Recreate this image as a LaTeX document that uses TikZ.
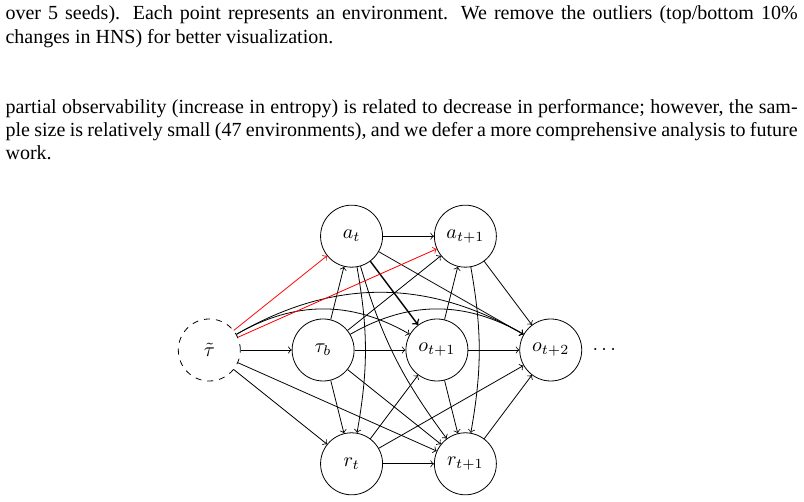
\documentclass[tikz,border=0pt]{standalone}
\usepackage{fontspec}
\newfontfamily\tm{Liberation Serif}
\begin{document}
\begin{tikzpicture}[
  state/.style={circle, draw, minimum size=31pt, inner sep=0pt},
  hidden/.style={state, dashed},
  edge/.style={->},
  redge/.style={->, red},
  txt/.style={anchor=base west, inner sep=0pt, font=\tm\fontsize{10}{12}\selectfont}
]
\useasboundingbox (0,0) rectangle (402pt,251pt);
\node[txt] (l1) at (2.6pt,241.25pt) {\makebox[396pt][s]{over 5 seeds). Each point represents an environment. We remove the outliers (top/bottom 10\%}};
\node[txt] (l2) at (2.6pt,229.35pt) {changes in HNS) for better visualization.};
\node[txt] (l3) at (2.6pt,194.4pt) {\makebox[396pt][s]{partial observability (increase in entropy) is related to decrease in performance; however, the sam-}};
\node[txt] (l4) at (2.6pt,182.8pt) {\makebox[396pt][s]{ple size is relatively small (47 environments), and we defer a more comprehensive analysis to future}};
\node[txt] (l5) at (2.6pt,171.2pt) {work.};
\begin{scope}[shift={(104.65pt,76pt)}]
\node[hidden] (tt) at (0,0) {$\tilde{\tau}$};
\node[state] (tb) at (2,0) {$\tau_b$};
\node[state] (at) at (2.5,2) {$a_t$};
\node[state] (rt) at (2.5,-2) {$r_t$};
\node[state] (o1) at (4,0) {$o_{t+1}$};
\node[state] (a1) at (4.5,2) {$a_{t+1}$};
\node[state] (r1) at (4.5,-2) {$r_{t+1}$};
\node[state] (o2) at (6,0) {$o_{t+2}$};
\node (dots) at (6.94,0) {$\cdots$};
\end{scope}
% from tilde tau
\draw[edge] (tt) -- (tb);
\draw[edge] (tt) -- (rt);
\draw[edge] (tt) -- (r1);
\draw[edge] (tt) to[bend left=30] (o1);
\draw[edge] (tt) to[bend left=30] (o2);
% from tau_b
\draw[edge] (tb) -- (at);
\draw[edge] (tb) -- (rt);
\draw[edge] (tb) -- (o1);
\draw[edge] (tb) -- (a1);
\draw[edge] (tb) -- (r1);
\draw[edge] (tb) to[bend left=30] (o2);
% from a_t
\draw[edge] (at) -- (a1);
\draw[edge, line width=0.7pt] (at) -- (o1);
\draw[edge] (at) -- (o2);
\draw[edge] (at) to[bend left=10] (rt);
\draw[edge] (at) to[bend right=10] (r1);
% from r_t
\draw[edge] (rt) -- (r1);
\draw[edge] (rt) -- (o1);
\draw[edge] (rt) -- (o2);
% from o_{t+1}
\draw[edge] (o1) -- (o2);
\draw[edge] (o1) -- (a1);
\draw[edge] (o1) -- (r1);
% from a_{t+1}, r_{t+1}
\draw[edge] (a1) -- (o2);
\draw[edge] (a1) to[bend left=10] (r1);
\draw[edge] (r1) -- (o2);
% red
\draw[redge] (tt) -- (at);
\draw[redge] (tt) -- (a1);
\end{tikzpicture}
\end{document}
